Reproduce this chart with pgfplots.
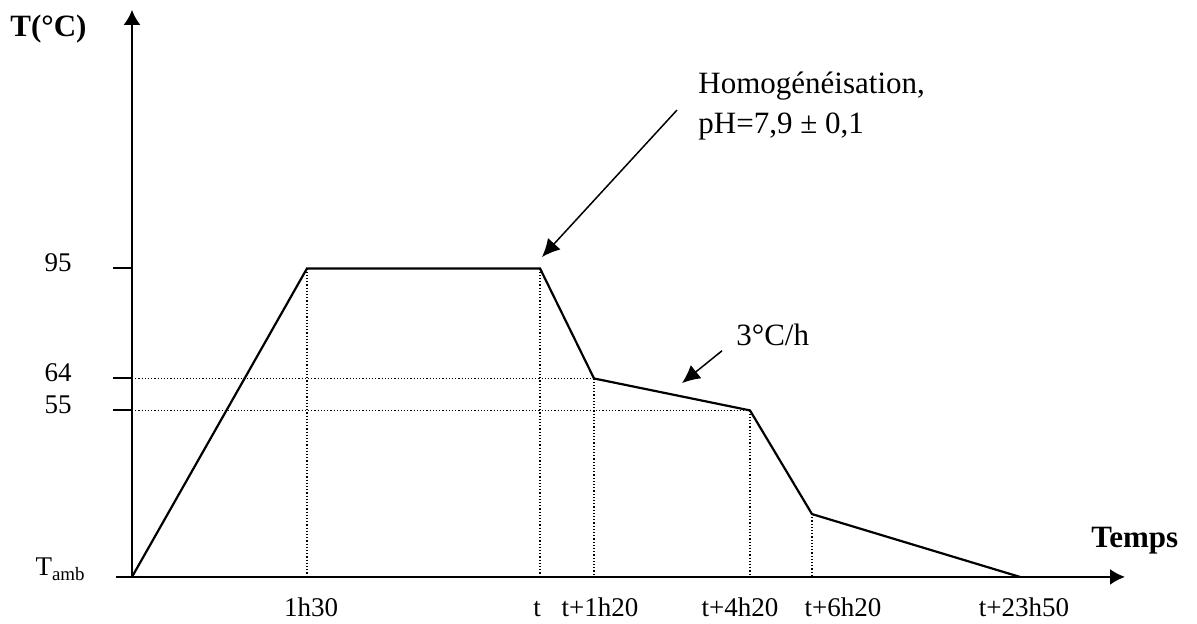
\documentclass[border=0pt]{standalone}
\usepackage{pgfplots}
\pgfplotsset{compat=1.18}
\usepackage{pgfplotstable}
\usepackage{fontspec}
\setmainfont{Liberation Serif}
\usetikzlibrary{arrows.meta}

% schematic temperature profile (x: schematic time position, T in degC; Tamb ~ 8.1)
\pgfplotstableread{
x T
0 8.1
175 95
408 95
462 64
618 55
680 25.8
888 8.1
}\profile

\newcommand{\ticksize}{\fontsize{13.5}{16}\selectfont}
\newcommand{\bigsize}{\fontsize{15.5}{19}\selectfont}

\begin{document}
\begin{tikzpicture}
\begin{axis}[
  scale only axis, width=504.5pt, height=283.5pt,
  xmin=-16, xmax=993, ymin=8.1, ymax=167.8,
  axis x line=bottom, axis y line=middle,
  hide obscured x ticks=false, hide obscured y ticks=false,
  x axis line style={line width=1pt, -{Latex[length=7.5pt,width=8pt]}},
  y axis line style={line width=1pt, -{Latex[length=7.5pt,width=8.5pt]}},
  xtick={179,405,468,608,711,892},
  xticklabels={1h30,t,t+1h20,t+4h20,t+6h20,t+23h50},
  xtick style={draw=none},
  x tick label style={anchor=base, inner sep=0pt, yshift=-15pt, font=\ticksize},
  ytick={55,64,95}, yticklabels={55,64,95},
  ytick align=outside, major tick length=9.5pt,
  ytick style={line width=1pt, black},
  y tick label style={anchor=base east, inner sep=0pt, xshift=-20.5pt, yshift=-1.5pt, font=\ticksize},
  extra y ticks={8.1}, extra y tick labels={T\textsubscript{amb}},
  extra y tick style={major tick length=0pt, y tick label style={xshift=-2.5pt, yshift=2pt}},
  clip=false,
]
\addplot[line width=1.1pt, black] table[x=x, y=T] {\profile};
% dotted guide lines
\addplot[black, line width=0.6pt, dash pattern=on 0.6pt off 1pt] coordinates {(175,95) (175,8.1)};
\addplot[black, line width=0.6pt, dash pattern=on 0.6pt off 1pt] coordinates {(408,95) (408,8.1)};
\addplot[black, line width=0.6pt, dash pattern=on 0.6pt off 1pt] coordinates {(462,64) (462,8.1)};
\addplot[black, line width=0.6pt, dash pattern=on 0.6pt off 1pt] coordinates {(618,55) (618,8.1)};
\addplot[black, line width=0.6pt, dash pattern=on 0.6pt off 1pt] coordinates {(680,25.8) (680,8.1)};
\addplot[black, line width=0.6pt, dash pattern=on 0.6pt off 1pt] coordinates {(0,64) (462,64)};
\addplot[black, line width=0.6pt, dash pattern=on 0.6pt off 1pt] coordinates {(0,55) (618,55)};
% annotations
\node[anchor=base west, inner sep=0pt, font=\bfseries\bigsize] at (axis cs:-122,160.2) {T(°C)};
\node[anchor=base west, inner sep=0pt, font=\bfseries\bigsize] at (axis cs:959,16.5) {Temps};
\node[anchor=base west, inner sep=0pt, font=\bigsize] at (axis cs:566,144.4) {Homogénéisation,};
\node[anchor=base west, inner sep=0pt, font=\bigsize] at (axis cs:566,132.9) {pH=7,9 ± 0,1};
\node[anchor=base west, inner sep=0pt, font=\bigsize] at (axis cs:604,73.2) {3°C/h};
\draw[line width=0.75pt, -{Latex[length=9pt,width=8.5pt]}] (axis cs:545,139.6) -- (axis cs:410,98.2);
\draw[line width=0.75pt, -{Latex[length=9pt,width=8.5pt]}] (axis cs:590,71.8) -- (axis cs:550,62.7);
\coordinate (BL) at (axis cs:-132,-4.9);
\coordinate (TR) at (axis cs:1065,170.6);
\end{axis}
\pgfresetboundingbox
\path[use as bounding box] (BL) rectangle (TR);
\end{tikzpicture}
\end{document}
